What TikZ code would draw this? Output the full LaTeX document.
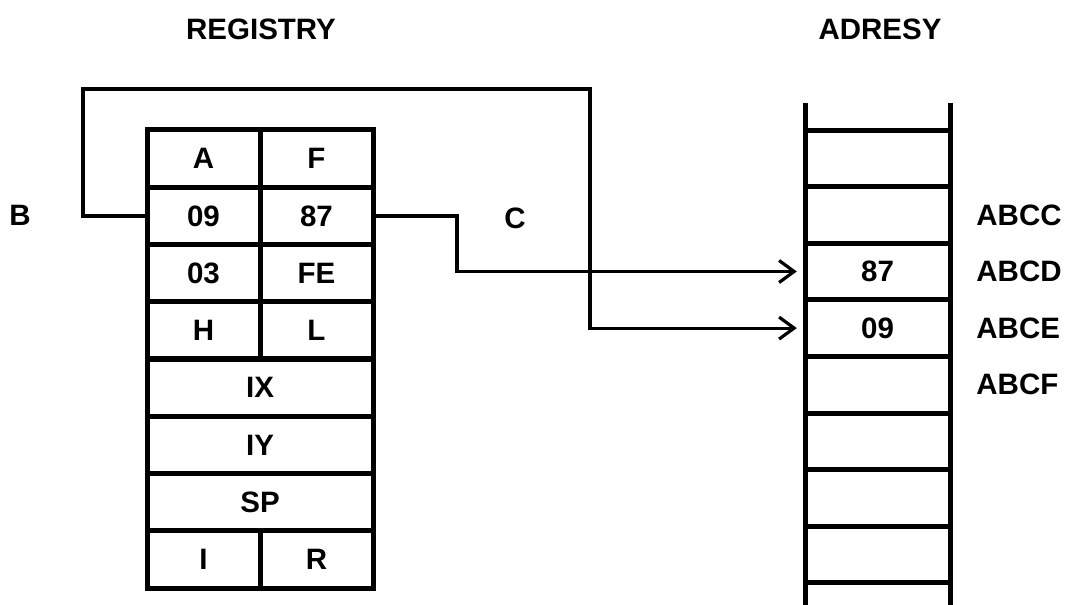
\documentclass[tikz,border=0pt]{standalone}
\usepackage{fontspec}
\setmainfont{Liberation Sans}
\usetikzlibrary{arrows.meta,positioning}
\begin{document}
\begin{tikzpicture}[x=1pt, y=-1pt, every node/.style={font=\fontsize{29.5}{34}\selectfont\bfseries}]
  \tikzstyle{reg}=[draw,line width=5pt,minimum width=113pt,minimum height=57.25pt,inner sep=0pt]
  \tikzstyle{wide}=[reg,minimum width=226pt]
  \tikzstyle{cell}=[minimum width=145pt,minimum height=56.6pt,inner sep=0pt]
  \tikzstyle{adr}=[anchor=west,inner sep=0pt]
  \tikzstyle{conn}=[line width=3.2pt,-{Straight Barb[length=15pt,width=22pt]},shorten >=8pt]
  \useasboundingbox (0,0) rectangle (1079,605);
  % titles
  \node (regtitle) at (261,29) {REGISTRY};
  \node (memtitle) at (880,29) {ADRESY};
  % registers
  \node[reg] (regA) at (203.5,158.6) {A};
  \node[reg] (regF) at (316.5,158.6) {F};
  \node[reg] (regB) at (203.5,215.9) {09};
  \node[reg] (regC) at (316.5,215.9) {87};
  \node[reg] (regD) at (203.5,273.1) {03};
  \node[reg] (regE) at (316.5,273.1) {FE};
  \node[reg] (regH) at (203.5,330.4) {H};
  \node[reg] (regL) at (316.5,330.4) {L};
  \node[wide] (regIX) at (260,387.6) {IX};
  \node[wide] (regIY) at (260,444.9) {IY};
  \node[wide] (regSP) at (260,502.1) {SP};
  \node[reg] (regI) at (203.5,559.4) {I};
  \node[reg] (regR) at (316.5,559.4) {R};
  % memory
  \draw[line width=5pt] (805,103) -- (805,605) (950,103) -- (950,605);
  \foreach \k in {0,...,8}
    \draw[line width=5pt] (805,130+56.6*\k) -- (950,130+56.6*\k);
  \node[cell] (mem1) at (877.5,158.3) {};
  \node[cell] (mem2) at (877.5,214.9) {};
  \node[cell] (mem3) at (877.5,271.5) {87};
  \node[cell] (mem4) at (877.5,328.1) {09};
  \node[cell] (mem5) at (877.5,384.7) {};
  \node[adr,right=26pt of mem2] (adrC) {ABCC};
  \node[adr,right=26pt of mem3] (adrD) {ABCD};
  \node[adr,right=26pt of mem4] (adrE) {ABCE};
  \node[adr,right=26pt of mem5] (adrF) {ABCF};
  % pointers
  \node (labB) at (20,215) {B};
  \node (labC) at (515,218) {C};
  \coordinate (bendL) at (83,89);
  \coordinate (bendR) at (590,89);
  \coordinate (bendC) at (457,245);
  \draw[conn] (regB.west) -| (bendL) -- (bendR) |- (mem4.west);
  \draw[conn] (regC.east) -| (bendC) |- (mem3.west);
\end{tikzpicture}
\end{document}
